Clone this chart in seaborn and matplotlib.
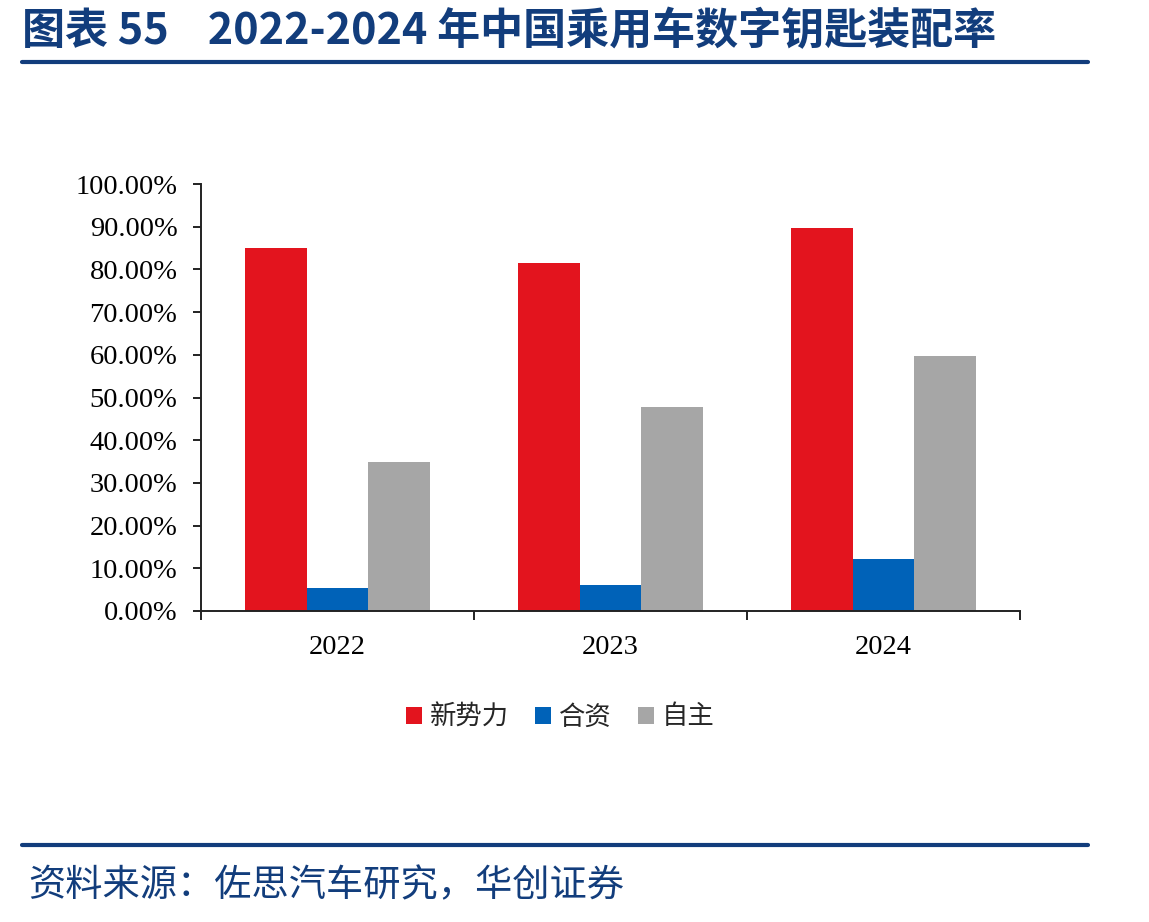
import pandas as pd
import seaborn as sns
import matplotlib.pyplot as plt
from matplotlib.ticker import FuncFormatter, FixedLocator
from matplotlib.lines import Line2D

# data (%)
years = ["2022", "2023", "2024"]
series = ["新势力", "合资", "自主"]
xinshili = [85.0, 81.5, 89.7]
hezi = [5.4, 6.1, 12.2]
zizhu = [34.9, 47.8, 59.7]
colors = ["#E3141E", "#0062B8", "#A6A6A6"]

df = pd.DataFrame({
    "year": years * 3,
    "type": [series[0]] * 3 + [series[1]] * 3 + [series[2]] * 3,
    "value": xinshili + hezi + zizhu,
})

sns.set_theme(style="white")
plt.rcParams['font.family'] = ['Noto Sans CJK SC', 'DejaVu Sans']

W, H = 1149, 922
fig = plt.figure(figsize=(W / 100, H / 100), dpi=100)
navy = "#123D7C"

# title and rules
fig.text(22 / W, 1 - 31 / H, "图表 55    2022-2024 年中国乘用车数字钥匙装配率",
         fontsize=31, fontweight="bold", color=navy, va="center", ha="left")
fig.add_artist(Line2D([22 / W, 1088 / W], [1 - 62 / H, 1 - 62 / H], color=navy, lw=3))
fig.add_artist(Line2D([22 / W, 1088 / W], [1 - 845 / H, 1 - 845 / H], color=navy, lw=3))
fig.text(28 / W, 1 - 886 / H, "资料来源：佐思汽车研究，华创证券",
         fontsize=26.8, color=navy, va="center", ha="left", style="italic")

# chart
ax = fig.add_axes([201 / W, 1 - 611 / H, 819 / W, 427 / H])
sns.barplot(data=df, x="year", y="value", hue="type", palette=colors,
            width=0.68, ax=ax, saturation=1, linewidth=0, legend=True)

ax.set_ylim(0, 100)
ax.set_xlim(-0.5, 2.5)
ax.set_yticks(range(0, 101, 10))
ax.yaxis.set_major_formatter(FuncFormatter(lambda v, p: f"{v:.2f}%"))
ax.set_xlabel("")
ax.set_ylabel("")
for s in ["top", "right"]:
    ax.spines[s].set_visible(False)
for s in ["left", "bottom"]:
    ax.spines[s].set_color("#222222")
    ax.spines[s].set_linewidth(1.4)

ax.tick_params(axis="y", which="major", direction="out", length=6, width=1.4,
               color="#222222", left=True, labelsize=20.5, pad=11)
ax.tick_params(axis="x", which="major", length=0, labelsize=20.5, pad=17)
ax.xaxis.set_minor_locator(FixedLocator([-0.5, 0.5, 1.5, 2.5]))
ax.tick_params(axis="x", which="minor", direction="out", length=6.5, width=1.4,
               color="#222222", bottom=True)
for lab in ax.get_xticklabels() + ax.get_yticklabels():
    lab.set_fontfamily("Liberation Serif")
    lab.set_color("black")

handles, labels = ax.get_legend_handles_labels()
ax.legend(handles, labels, loc="center", bbox_to_anchor=((560 - 201) / 819, -(717 - 611) / 427),
          ncol=3, frameon=False, fontsize=19, handlelength=0.6, handleheight=0.6,
          handletextpad=0.3, columnspacing=1.0)

fig.savefig("out.png", dpi=100, facecolor="white")
